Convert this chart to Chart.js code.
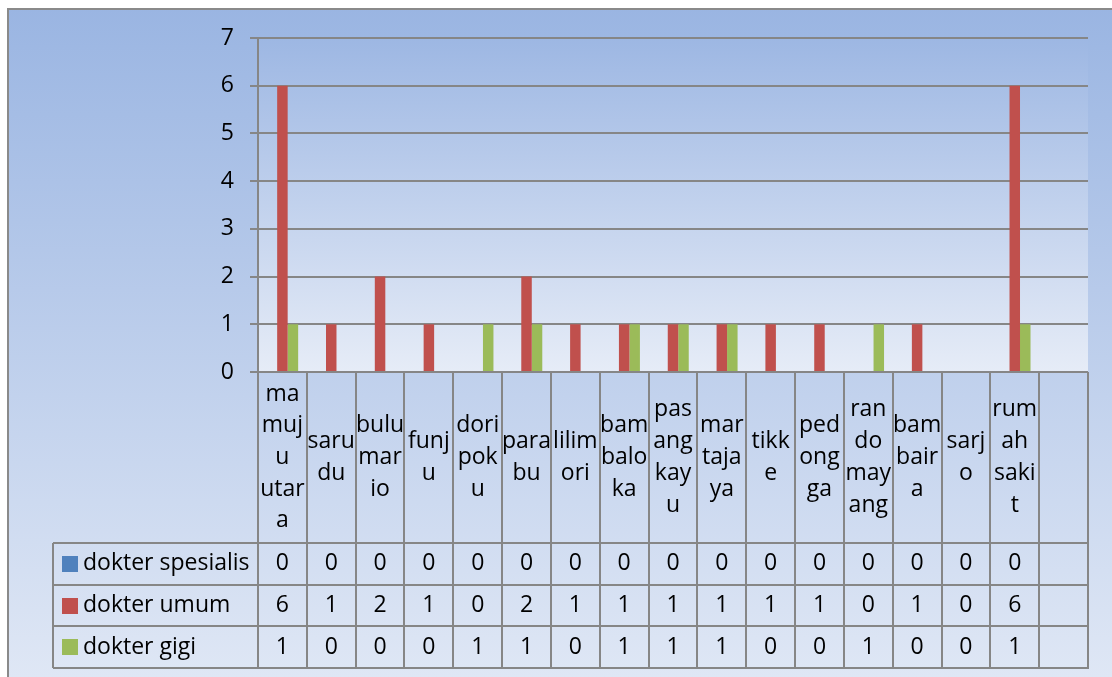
<!DOCTYPE html>
<html>
<head>
<meta charset="utf-8">
<script src="https://cdn.jsdelivr.net/npm/chart.js@4.4.1/dist/chart.umd.min.js"></script>
<style>
  html, body { margin: 0; padding: 0; background: #ffffff; }
  canvas { display: block; }
</style>
</head>
<body>
<canvas id="chart" width="1112" height="677"></canvas>
<script>
// Category labels (already broken into the lines shown in the header cells)
const categories = [
  ["ma", "muj", "u", "utar", "a"],
  ["saru", "du"],
  ["bulu", "mar", "io"],
  ["funj", "u"],
  ["dori", "pok", "u"],
  ["para", "bu"],
  ["lilim", "ori"],
  ["bam", "balo", "ka"],
  ["pas", "ang", "kay", "u"],
  ["mar", "taja", "ya"],
  ["tikk", "e"],
  ["ped", "ong", "ga"],
  ["ran", "do", "may", "ang"],
  ["bam", "bair", "a"],
  ["sarj", "o"],
  ["rum", "ah", "saki", "t"],
  [""]
];
const seriesNames = ["dokter spesialis", "dokter umum", "dokter gigi"];
const dokterSpesialis = [0, 0, 0, 0, 0, 0, 0, 0, 0, 0, 0, 0, 0, 0, 0, 0, null];
const dokterUmum      = [6, 1, 2, 1, 0, 2, 1, 1, 1, 1, 1, 1, 0, 1, 0, 6, null];
const dokterGigi      = [1, 0, 0, 0, 1, 1, 0, 1, 1, 1, 0, 0, 1, 0, 0, 1, null];
const seriesColors = ["#4F81BD", "#C0504D", "#9BBB59"];
const yTickValues = [0, 1, 2, 3, 4, 5, 6, 7];

const FONT = "'Open Sans', Lato, sans-serif";
const FONT_SIZE = 23;
const LINE = "#868686";

// Geometry of the data table under the plot
const TABLE = {
  legendLeft: 53,
  headerBottom: 543,
  rowHeight: 41.7,
  lineHeight: 31.7
};

const dataTablePlugin = {
  id: 'dataTable',
  beforeDraw(chart) {
    const { ctx, chartArea: a, width, height } = chart;
    ctx.save();
    // chart background
    let g = ctx.createLinearGradient(0, 8, 0, height);
    g.addColorStop(0, '#9AB5E2');
    g.addColorStop(1, '#DFE7F5');
    ctx.fillStyle = g;
    ctx.fillRect(7, 8, width - 7, height - 8);
    ctx.strokeStyle = '#8A8A8A';
    ctx.lineWidth = 2;
    ctx.beginPath();
    ctx.moveTo(8, height);
    ctx.lineTo(8, 9);
    ctx.lineTo(width, 9);
    ctx.stroke();
    // plot area background
    g = ctx.createLinearGradient(0, a.top, 0, a.bottom);
    g.addColorStop(0, '#9DB7E3');
    g.addColorStop(1, '#E6ECF7');
    ctx.fillStyle = g;
    ctx.fillRect(a.left, a.top, a.right - a.left, a.bottom - a.top);
    ctx.restore();
  },
  afterDraw(chart) {
    const { ctx, chartArea: a } = chart;
    const n = categories.length;
    const colW = (a.right - a.left) / n;
    const rowsTop = TABLE.headerBottom;
    const rowsBottom = rowsTop + TABLE.rowHeight * seriesNames.length;
    ctx.save();
    ctx.strokeStyle = LINE;
    ctx.lineWidth = 2;
    ctx.beginPath();
    // column separators
    for (let i = 0; i <= n; i++) {
      const x = Math.round(a.left + i * colW);
      ctx.moveTo(x, a.bottom);
      ctx.lineTo(x, rowsBottom);
    }
    // row separators
    for (let r = 0; r <= seriesNames.length; r++) {
      const y = Math.round(rowsTop + r * TABLE.rowHeight);
      ctx.moveTo(TABLE.legendLeft, y);
      ctx.lineTo(a.right + 1, y);
    }
    ctx.moveTo(TABLE.legendLeft, rowsTop);
    ctx.lineTo(TABLE.legendLeft, rowsBottom);
    ctx.stroke();

    ctx.fillStyle = '#000000';
    ctx.font = FONT_SIZE + 'px ' + FONT;
    ctx.textBaseline = 'middle';
    ctx.textAlign = 'center';
    // header cells
    const headMid = (a.bottom + rowsTop) / 2;
    categories.forEach((lines, i) => {
      const cx = a.left + (i + 0.5) * colW;
      const y0 = headMid - (lines.length - 1) * TABLE.lineHeight / 2;
      lines.forEach((t, k) => ctx.fillText(t, cx, y0 + k * TABLE.lineHeight));
    });
    // value rows with legend keys
    chart.data.datasets.forEach((ds, r) => {
      const cy = rowsTop + (r + 0.5) * TABLE.rowHeight;
      ctx.fillStyle = ds.backgroundColor;
      ctx.fillRect(62, Math.round(cy - 8), 16, 16);
      ctx.fillStyle = '#000000';
      ctx.textAlign = 'left';
      ctx.fillText(ds.label, 83, cy);
      ctx.textAlign = 'center';
      ds.data.forEach((v, i) => {
        if (v === null) return;
        ctx.fillText(String(v), a.left + (i + 0.5) * colW, cy);
      });
    });
    ctx.restore();
  }
};

new Chart(document.getElementById('chart'), {
  type: 'bar',
  data: {
    labels: categories,
    datasets: [
      { label: seriesNames[0], data: dokterSpesialis, backgroundColor: seriesColors[0] },
      { label: seriesNames[1], data: dokterUmum, backgroundColor: seriesColors[1] },
      { label: seriesNames[2], data: dokterGigi, backgroundColor: seriesColors[2] }
    ]
  },
  options: {
    responsive: false,
    animation: false,
    events: [],
    layout: { padding: { left: 0, right: 24, top: 38, bottom: 305 } },
    datasets: { bar: { barPercentage: 1, categoryPercentage: 0.645 } },
    plugins: { legend: { display: false }, tooltip: { enabled: false } },
    scales: {
      x: { display: false },
      y: {
        min: 0,
        max: 7,
        afterBuildTicks(scale) { scale.ticks = yTickValues.map(v => ({ value: v })); },
        afterFit(scale) { scale.width = 258; },
        ticks: { color: '#000000', padding: 16, font: { family: FONT, size: 23 } },
        grid: { color: LINE, lineWidth: 2, tickLength: 8, drawTicks: true },
        border: { display: true, color: LINE, width: 2 }
      }
    }
  },
  plugins: [dataTablePlugin]
});
</script>
</body>
</html>
